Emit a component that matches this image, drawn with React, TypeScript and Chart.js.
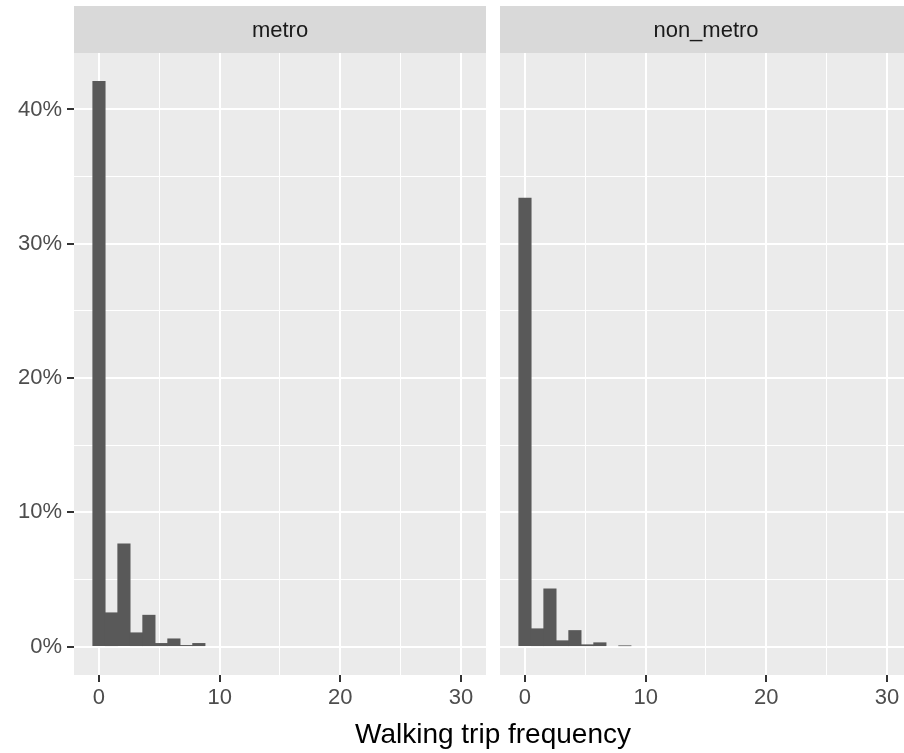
import React, { useEffect, useRef } from "react";
import { Chart, registerables } from "chart.js";

Chart.register(...registerables);

// Histogram bins (30 bins of width 30/29, centred on these values)
const binCenters = [
  0, 1.034, 2.069, 3.103, 4.138, 5.172, 6.207, 7.241, 8.276, 9.31,
  10.345, 11.379, 12.414, 13.448, 14.483, 15.517, 16.552, 17.586, 18.621, 19.655,
  20.69, 21.724, 22.759, 23.793, 24.828, 25.862, 26.897, 27.931, 28.966, 30,
];

// Share of all trips (%) per bin
const metroShare = [
  42.1, 2.53, 7.66, 1.04, 2.35, 0.25, 0.59, 0.1, 0.25, 0,
  0, 0, 0, 0, 0, 0, 0, 0, 0, 0,
  0, 0, 0, 0, 0, 0, 0, 0, 0, 0,
];
const nonMetroShare = [
  33.4, 1.34, 4.31, 0.45, 1.21, 0.15, 0.3, 0, 0.07, 0,
  0, 0, 0, 0, 0, 0, 0, 0, 0, 0,
  0, 0, 0, 0, 0, 0, 0, 0, 0, 0,
];

const panelLabels = ["metro", "non_metro"];
const xMajorTicks = [0, 10, 20, 30];
const xMinorTicks = [5, 15, 25];
const yMajorTicks = [0, 10, 20, 30, 40];
const yMinorTicks = [5, 15, 25, 35];
const xTitle = "Walking trip frequency";

const X_MIN = -2.069;
const X_MAX = 32.069;
const Y_MIN = -2.105;
const Y_MAX = 44.205;

const FONT = '"Liberation Sans", Arial, Helvetica, sans-serif';
const TICK_SIZE = 22;
const TITLE_SIZE = 28;
const STRIP_TOP = 6;

function makePlugin(label: string, drawTitle: boolean, titleX: number) {
  return {
    id: "panelDecor",
    beforeDraw(chart: any) {
      const { ctx, chartArea: a } = chart;
      ctx.save();
      ctx.fillStyle = "#EBEBEB";
      ctx.fillRect(a.left, a.top, a.right - a.left, a.bottom - a.top);
      ctx.fillStyle = "#D9D9D9";
      ctx.fillRect(a.left, STRIP_TOP, a.right - a.left, a.top - STRIP_TOP);
      ctx.fillStyle = "#1A1A1A";
      ctx.font = `${TICK_SIZE}px ${FONT}`;
      ctx.textAlign = "center";
      ctx.textBaseline = "middle";
      ctx.fillText(label, (a.left + a.right) / 2, (STRIP_TOP + a.top) / 2 + 1);
      ctx.restore();
    },
    afterDraw(chart: any) {
      if (!drawTitle) return;
      const { ctx } = chart;
      ctx.save();
      ctx.fillStyle = "#000000";
      ctx.font = `${TITLE_SIZE}px ${FONT}`;
      ctx.textAlign = "center";
      ctx.textBaseline = "middle";
      ctx.fillText(xTitle, titleX, 735);
      ctx.restore();
    },
  };
}

function makeConfig(values: number[], label: string, isLeft: boolean): any {
  const isMajorX = (v: number) => xMajorTicks.includes(v);
  const isMajorY = (v: number) => yMajorTicks.includes(v);
  return {
    type: "bar",
    data: {
      datasets: [
        {
          data: binCenters.map((x, i) => ({ x, y: values[i] })),
          backgroundColor: "#595959",
          borderWidth: 0,
          barPercentage: 1,
          categoryPercentage: 1,
          grouped: false,
          inflateAmount: (c: any) => (c.raw && c.raw.y > 0 ? "auto" : 0),
        },
      ],
    },
    options: {
      animation: false,
      responsive: false,
      events: [],
      layout: isLeft
        ? { padding: { left: 0, top: 53, right: 418, bottom: 0 } }
        : { padding: { left: 14, top: 53, right: 14, bottom: 0 } },
      plugins: {
        legend: { display: false },
        tooltip: { enabled: false },
        title: { display: false },
      },
      scales: {
        x: {
          type: "linear",
          offset: false,
          min: X_MIN,
          max: X_MAX,
          afterBuildTicks: (s: any) => {
            s.ticks = [...xMajorTicks, ...xMinorTicks]
              .sort((a, b) => a - b)
              .map((v) => ({ value: v }));
          },
          afterFit: (s: any) => {
            s.height = 78;
          },
          border: { display: false },
          grid: {
            offset: false,
            color: "#FFFFFF",
            lineWidth: (c: any) => (c.tick && isMajorX(c.tick.value) ? 2 : 1),
            drawTicks: true,
            tickLength: 7,
            tickWidth: (c: any) => (c.tick && isMajorX(c.tick.value) ? 2 : 0),
            tickColor: (c: any) =>
              c.tick && isMajorX(c.tick.value) ? "#333333" : "rgba(0,0,0,0)",
          },
          ticks: {
            autoSkip: false,
            maxRotation: 0,
            minRotation: 0,
            padding: 3,
            color: "#4D4D4D",
            font: { family: FONT, size: TICK_SIZE },
            callback: (v: number) => (isMajorX(v) ? String(v) : ""),
          },
        },
        y: {
          type: "linear",
          min: Y_MIN,
          max: Y_MAX,
          afterBuildTicks: (s: any) => {
            s.ticks = [...yMajorTicks, ...yMinorTicks]
              .sort((a, b) => a - b)
              .map((v) => ({ value: v }));
          },
          afterFit: (s: any) => {
            s.width = isLeft ? 74 : 0;
          },
          border: { display: false },
          grid: {
            color: "#FFFFFF",
            lineWidth: (c: any) => (c.tick && isMajorY(c.tick.value) ? 2 : 1),
            drawTicks: isLeft,
            tickLength: 7,
            tickWidth: (c: any) => (c.tick && isMajorY(c.tick.value) ? 2 : 0),
            tickColor: (c: any) =>
              c.tick && isMajorY(c.tick.value) ? "#333333" : "rgba(0,0,0,0)",
          },
          ticks: {
            display: isLeft,
            autoSkip: false,
            padding: 5,
            color: "#4D4D4D",
            font: { family: FONT, size: TICK_SIZE },
            callback: (v: number) => (isMajorY(v) ? `${v}%` : ""),
          },
        },
      },
    },
    plugins: [makePlugin(label, isLeft, 493)],
  };
}

export default function App() {
  const leftRef = useRef<HTMLCanvasElement | null>(null);
  const rightRef = useRef<HTMLCanvasElement | null>(null);

  useEffect(() => {
    const charts: Chart[] = [];
    if (leftRef.current) {
      charts.push(new Chart(leftRef.current, makeConfig(metroShare, panelLabels[0], true)));
    }
    if (rightRef.current) {
      charts.push(new Chart(rightRef.current, makeConfig(nonMetroShare, panelLabels[1], false)));
    }
    return () => charts.forEach((c) => c.destroy());
  }, []);

  return (
    <div
      style={{
        position: "absolute",
        left: 0,
        top: 0,
        width: 904,
        height: 753,
        overflow: "hidden",
        background: "#FFFFFF",
      }}
    >
      <canvas
        ref={leftRef}
        width={904}
        height={753}
        style={{ position: "absolute", left: 0, top: 0, width: 904, height: 753 }}
      />
      <canvas
        ref={rightRef}
        width={440}
        height={753}
        style={{ position: "absolute", left: 486, top: 0, width: 440, height: 753 }}
      />
    </div>
  );
}
